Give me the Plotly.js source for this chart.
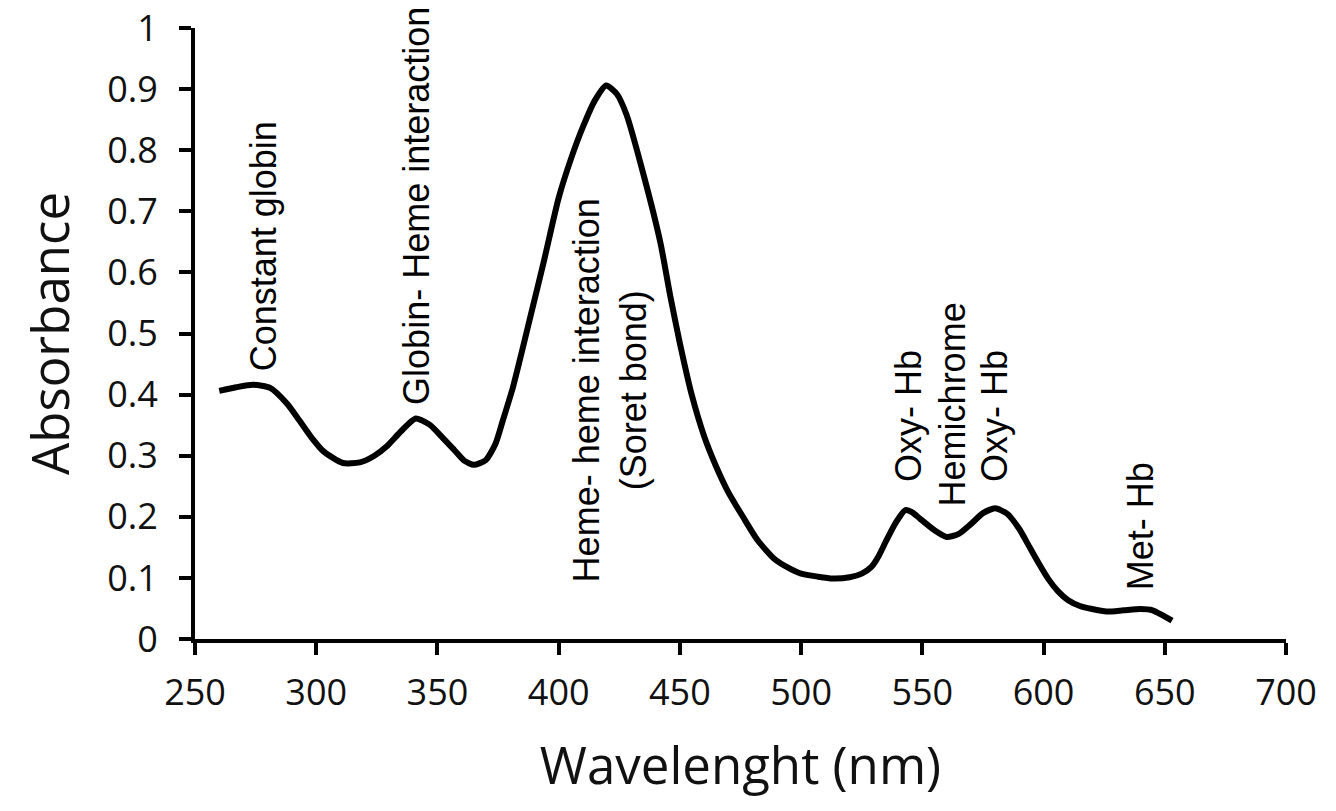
<!DOCTYPE html>
<html>
<head>
<meta charset="utf-8">
<script src="https://cdn.plot.ly/plotly-3.0.1.min.js"></script>
<style>html,body{margin:0;padding:0;background:#fff;}#chart{width:1336px;height:811px;}</style>
</head>
<body>
<div id="chart"></div>
<script>
// Wavelength (nm)
const wavelength = [260, 267, 274, 281, 288, 293, 298, 303, 311, 318, 324, 329, 335, 341, 347, 352, 357, 361, 365, 370, 374, 377, 381, 384, 388, 394, 400, 405, 410, 415, 419.6, 424, 428, 435, 442, 446, 450, 455, 460, 465, 470, 476, 482, 489, 495, 500, 507, 513, 520, 525, 529, 532, 535, 539, 543, 546, 549, 555, 560, 565, 570, 575, 580, 585, 590, 594, 598, 602, 606, 610, 615, 620, 626, 633, 640, 645, 649, 653];
// Absorbance
const absorbance = [0.406, 0.412, 0.416, 0.411, 0.385, 0.358, 0.330, 0.307, 0.288, 0.289, 0.300, 0.315, 0.340, 0.361, 0.350, 0.330, 0.309, 0.292, 0.285, 0.293, 0.320, 0.358, 0.410, 0.457, 0.522, 0.620, 0.722, 0.785, 0.838, 0.882, 0.906, 0.892, 0.858, 0.760, 0.648, 0.562, 0.484, 0.398, 0.332, 0.282, 0.240, 0.200, 0.162, 0.131, 0.116, 0.107, 0.102, 0.099, 0.101, 0.107, 0.118, 0.136, 0.160, 0.190, 0.211, 0.207, 0.197, 0.178, 0.167, 0.172, 0.188, 0.206, 0.214, 0.205, 0.180, 0.152, 0.124, 0.098, 0.078, 0.064, 0.054, 0.049, 0.045, 0.047, 0.049, 0.047, 0.039, 0.030];

// Band labels
const bandLabels = ["Constant globin", "Globin- Heme interaction", "Heme- heme interaction<br>(Soret bond)", "Oxy- Hb", "Hemichrome", "Oxy- Hb", "Met- Hb"];
const bandX = [278.1, 341.6, 421.2, 544.6, 562.3, 580.0, 640.3];
const bandY = [0.435, 0.380, 0.407, 0.254, 0.214, 0.254, 0.077];
const bandAnchor = ["bottom", "bottom", "middle", "bottom", "bottom", "bottom", "bottom"];

const xTicks = [250, 300, 350, 400, 450, 500, 550, 600, 650, 700];
const yTicks = [0, 0.1, 0.2, 0.3, 0.4, 0.5, 0.6, 0.7, 0.8, 0.9, 1];
const yTickText = ["0", "0.1", "0.2", "0.3", "0.4", "0.5", "0.6", "0.7", "0.8", "0.9", "1"];

const trace = {
  x: wavelength, y: absorbance, type: "scatter", mode: "lines",
  line: {color: "#000", width: 6, shape: "spline", smoothing: 0.6},
  hoverinfo: "x+y"
};

const annotations = bandLabels.map((t, i) => ({
  x: bandX[i], y: bandY[i], xref: "x", yref: "y", text: t, showarrow: false,
  textangle: -90, xanchor: "center", yanchor: bandAnchor[i], align: "center",
  font: {family: "Liberation Sans, Arial, sans-serif", size: 36, color: "#000"}
}));

const axisFont = {family: "Open Sans, sans-serif", size: 36, color: "#111"};
const layout = {
  width: 1336, height: 811,
  margin: {l: 195, r: 50, t: 28, b: 172},
  paper_bgcolor: "#fff", plot_bgcolor: "#fff",
  showlegend: false,
  xaxis: {
    range: [250, 700], tickvals: xTicks, ticktext: xTicks.map(String),
    showgrid: false, zeroline: false, showline: true, linecolor: "#000", linewidth: 4,
    ticks: "outside", ticklen: 12, tickwidth: 4, tickcolor: "#000",
    tickfont: axisFont, ticklabelstandoff: 7,
    title: {text: "Wavelenght (nm)", font: {family: "Open Sans, sans-serif", size: 51, color: "#111"}, standoff: 34}
  },
  yaxis: {
    range: [0, 1], tickvals: yTicks, ticktext: yTickText,
    showgrid: false, zeroline: false, showline: true, linecolor: "#000", linewidth: 4,
    ticks: "outside", ticklen: 12, tickwidth: 4, tickcolor: "#000",
    tickfont: axisFont, ticklabelstandoff: 14,
    title: {text: "Absorbance", font: {family: "Open Sans, sans-serif", size: 51, color: "#111"}, standoff: 22}
  },
  annotations: annotations
};

Plotly.newPlot("chart", [trace], layout, {displayModeBar: false, staticPlot: true});
</script>
</body>
</html>
